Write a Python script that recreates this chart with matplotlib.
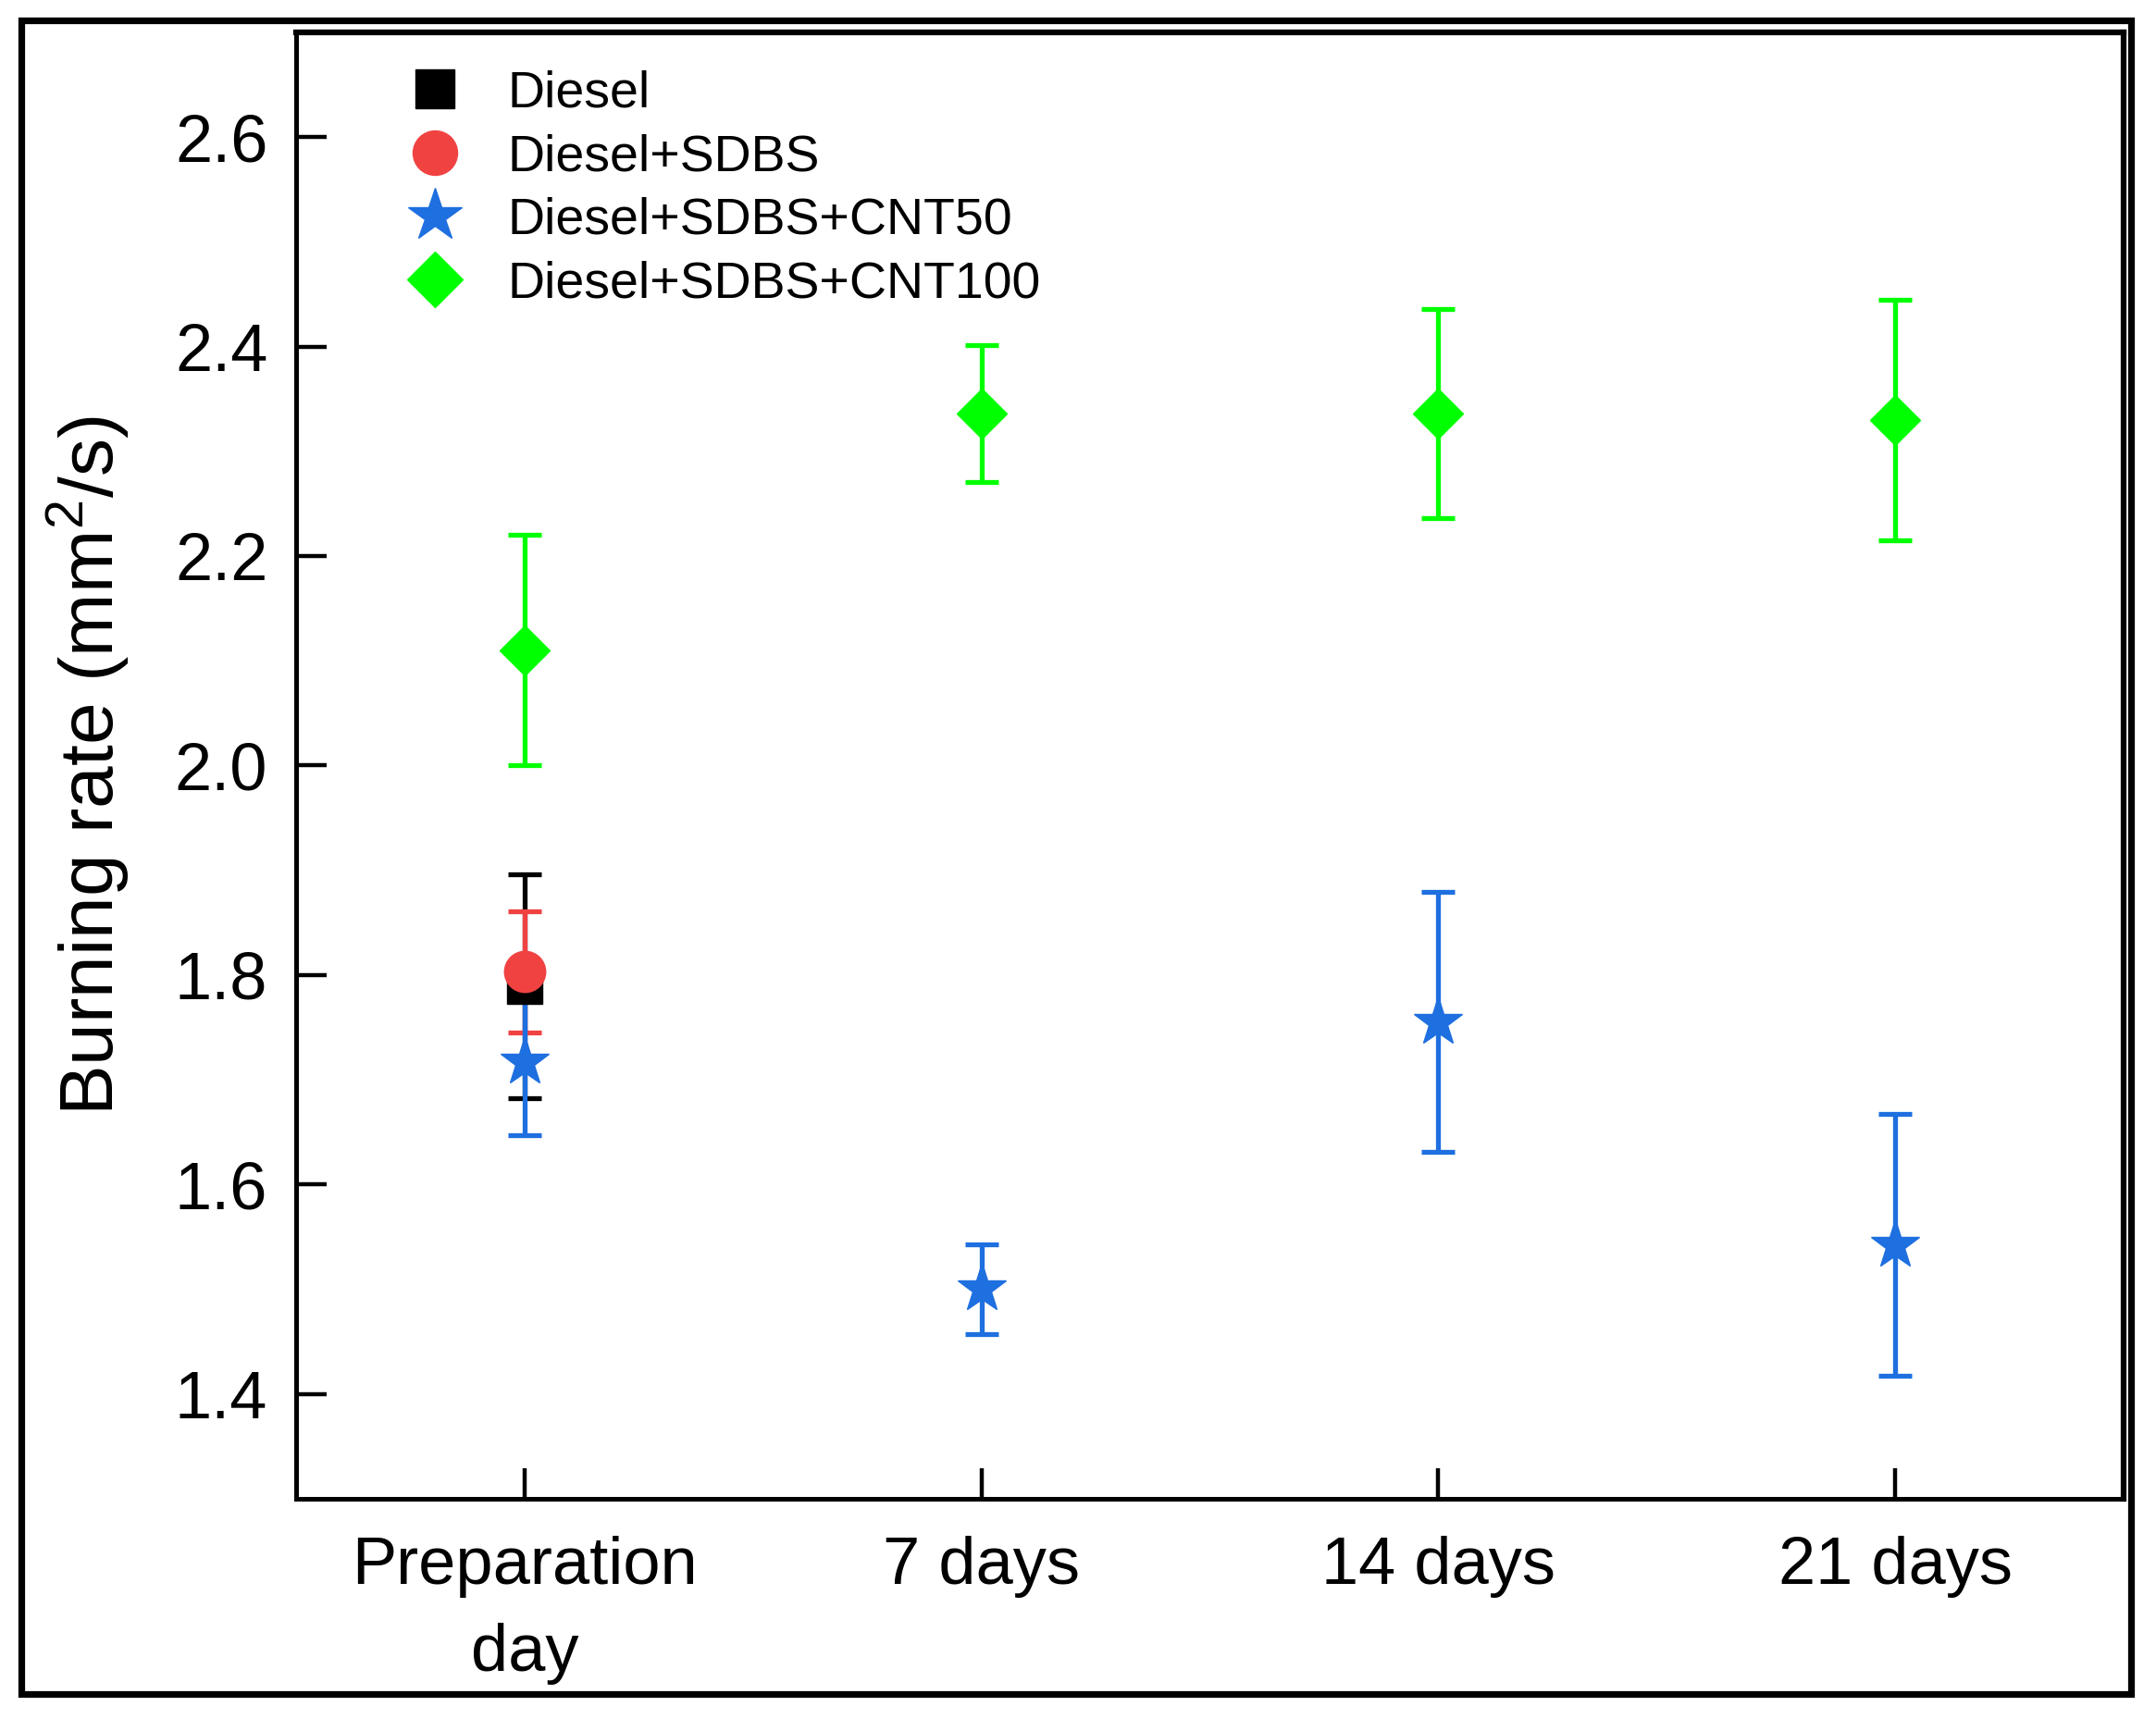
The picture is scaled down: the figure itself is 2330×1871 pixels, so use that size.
import matplotlib
matplotlib.use("Agg")
import matplotlib.pyplot as plt
from matplotlib.patches import Rectangle

plt.rcParams['font.family'] = ['Liberation Sans', 'DejaVu Sans']
plt.rcParams['mathtext.fontset'] = 'custom'
plt.rcParams['mathtext.rm'] = 'Liberation Sans'

# Données
days = ['Preparation\nday', '7 days', '14 days', '21 days']

diesel = [1.789]
diesel_err = [0.107]

sdbs = [1.803]
sdbs_err = [0.058]

cnt50 = [1.717, 1.500, 1.755, 1.542]
cnt50_err = [0.070, 0.043, 0.124, 0.125]

cnt100 = [2.110, 2.336, 2.336, 2.330]
cnt100_err = [0.110, 0.065, 0.100, 0.115]

fig = plt.figure(figsize=(23.3, 18.71), dpi=100)
ax = fig.add_axes([0.1373, 0.1342, 0.8477, 0.8471])

# Cadre extérieur autour de la figure
fig.patches.append(Rectangle((0.0099, 0.0214), 0.9785, 0.9668, transform=fig.transFigure,
                             fill=False, edgecolor='black', linewidth=5.2))

x_all = list(range(len(days)))

series = [
    (x_all[:1], diesel, diesel_err, 's', 28, 'black', 'Diesel'),
    (x_all[:1], sdbs, sdbs_err, 'o', 32, '#F14242', 'Diesel+SDBS'),
    (x_all, cnt50, cnt50_err, '*', 40, '#1E6FE0', 'Diesel+SDBS+CNT50'),
    (x_all, cnt100, cnt100_err, 'D', 28, '#00FF00', 'Diesel+SDBS+CNT100'),
]

handles = []
labels = []
for xs, ys, es, mk, ms, col, lab in series:
    cont = ax.errorbar(xs, ys, yerr=es, fmt=mk, markersize=ms, color=col, ecolor=col,
                       elinewidth=3.8, capsize=13, capthick=3.8, zorder=3)
    handles.append(cont[0])
    labels.append(lab)

ax.set_xlim(-0.5, 3.5)
ax.set_ylim(1.3, 2.7)
ax.set_yticks([1.4, 1.6, 1.8, 2.0, 2.2, 2.4, 2.6])
ax.set_xticks(x_all)
ax.set_xticklabels(days, fontsize=52, linespacing=1.52)
ax.tick_params(axis='y', labelsize=52, pad=22)
ax.tick_params(axis='x', pad=29)
ax.tick_params(direction='in', length=24, width=3.2)
ax.tick_params(top=False, right=False)

for side in ['left', 'bottom']:
    ax.spines[side].set_linewidth(3.6)
for side in ['top', 'right']:
    ax.spines[side].set_linewidth(4.5)

ax.set_ylabel('Burning rate (mm$^2$/s)', fontsize=59, labelpad=34)

ax.legend(handles, labels, loc='upper left', bbox_to_anchor=(0.036, 1.0), frameon=False,
          fontsize=40, handletextpad=0.7, labelspacing=0.3, borderaxespad=0.33,
          handlelength=1.4, markerscale=1.08)

fig.savefig('out.png', dpi=100)
